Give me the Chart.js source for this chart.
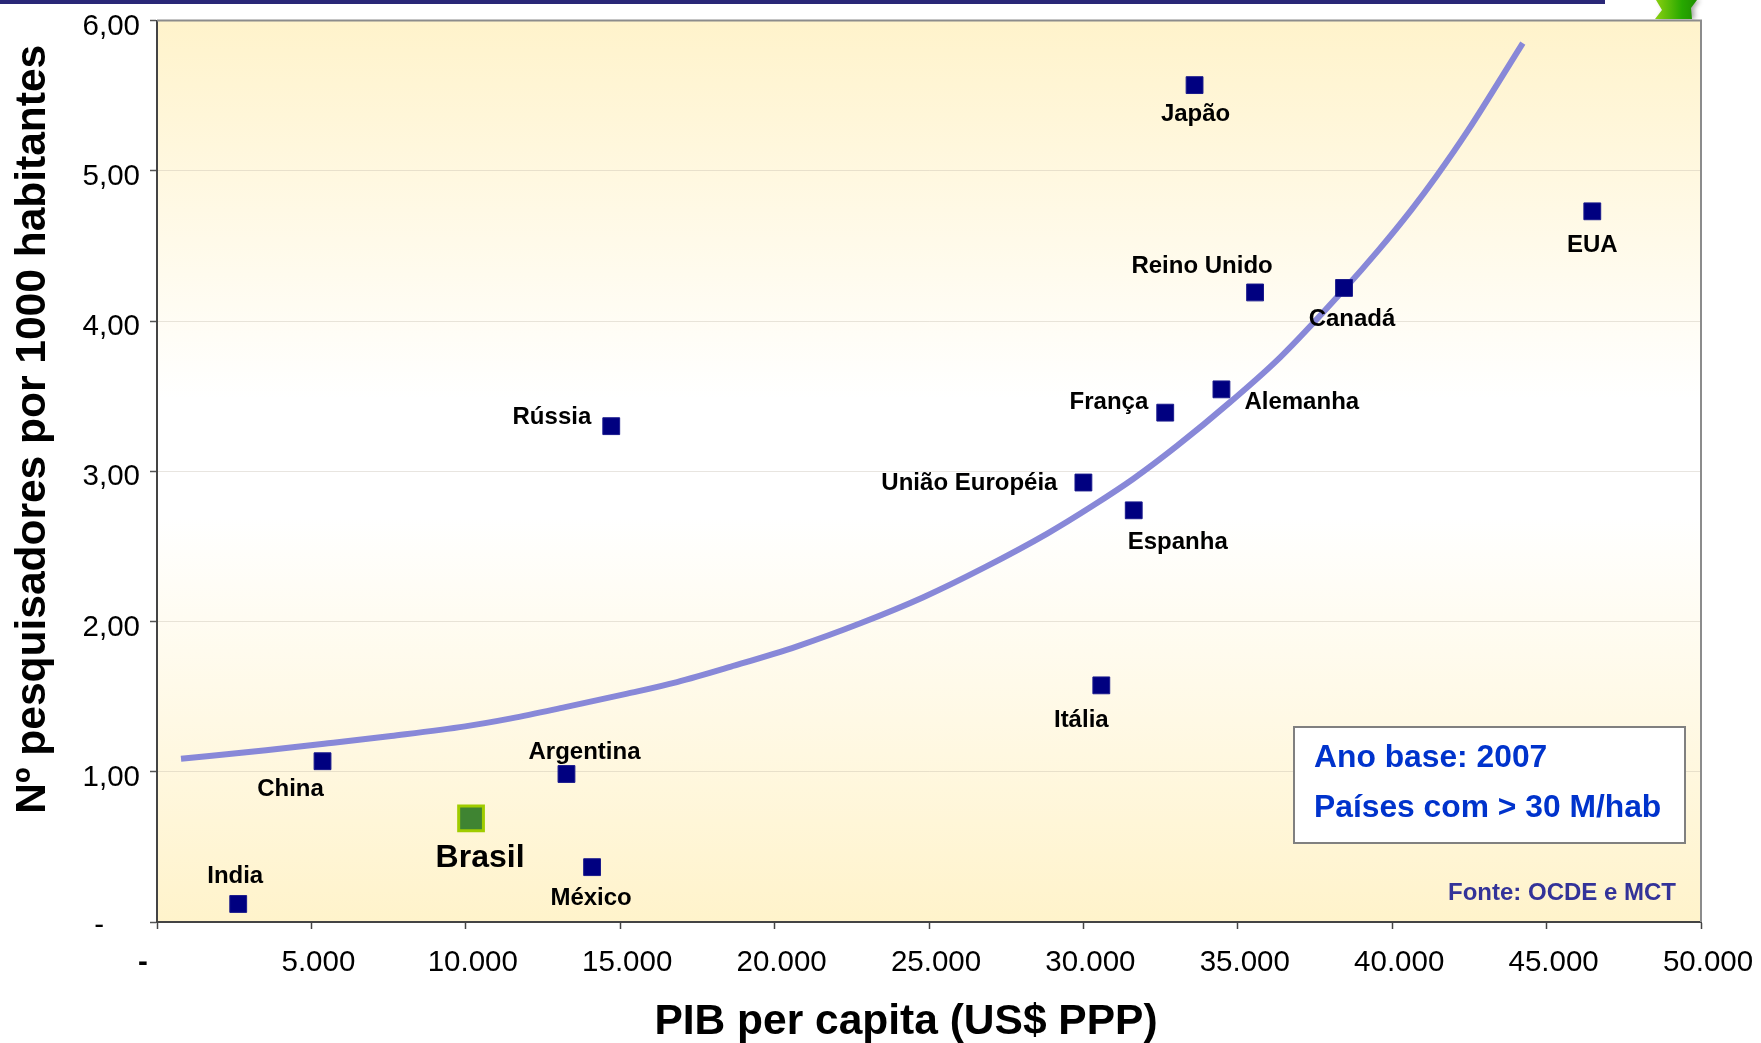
<!DOCTYPE html>
<html><head><meta charset="utf-8">
<style>html,body{margin:0;padding:0;background:#fff}#w{position:absolute;left:0;top:0;width:1761px;height:1043px}</style>
<script src="https://cdn.jsdelivr.net/npm/chart.js@4/dist/chart.umd.min.js"></script>
</head><body><div id="w"><canvas id="c" width="1761" height="1043"></canvas></div>
<script>
const countries = ["India","China","Argentina","México","Rússia","Itália","União Européia","Espanha","França","Alemanha","Japão","Reino Unido","Canadá","EUA"];
const pibValues = [2630,5360,13260,14090,14710,30580,30000,31630,32650,34470,33600,35560,38440,46480];
const researcherValues = [0.12,1.07,0.985,0.365,3.30,1.575,2.925,2.74,3.39,3.545,5.57,4.19,4.22,4.73];
const brazilName = ["Brasil"];
const brazilPib = [10170];
const brazilResearchers = [0.69];
const trendPib = [777,3530,5540,7580,9980,11470,13220,15230,16840,18590,20730,22800,24800,26800,28830,30300,31620,33040,34750,36380,38440,39550,40620,41420,42460,44230];
const trendValues = [1.087,1.143,1.189,1.238,1.302,1.355,1.43,1.52,1.597,1.70,1.835,1.99,2.16,2.36,2.585,2.77,2.95,3.17,3.46,3.76,4.21,4.47,4.74,4.96,5.27,5.85];
const xTickValues = [0,5000,10000,15000,20000,25000,30000,35000,40000,45000,50000];
const yTickValues = [0,1,2,3,4,5,6];
const xTitle = "PIB per capita (US$ PPP)";
const yTitle = "Nº pesquisadores por 1000 habitantes";
const noteLines = ["Ano base: 2007","Países com > 30 M/hab"];
const sourceText = "Fonte: OCDE e MCT";

const FF = '"Liberation Sans", Arial, sans-serif';
// pixel offsets of each country's label from its marker: dx, dy, alignment
const labelPlace = {
 "India":[-3,-28,"center"],"China":[-32,28,"center"],"Argentina":[18,-22,"center"],"México":[-1,31,"center"],
 "Rússia":[-20,-9,"right"],"Itália":[-20,35,"center"],"União Européia":[-26,1,"right"],"Espanha":[-6,32,"left"],
 "França":[-17,-10,"right"],"Alemanha":[23,13,"left"],"Japão":[1,29,"center"],"Reino Unido":[-53,-26,"center"],
 "Canadá":[8,31,"center"],"EUA":[0,34,"center"]};

const decor = {
 id:'decor',
 afterUpdate(chart){
   const xs=chart.scales.x;
   xs.getLabelItems().forEach((it,i)=>{ it.options.translation[0]+= (i===0?-14:7); });
   const ys=chart.scales.y;
   ys.getLabelItems().forEach((it,i)=>{ it.options.translation[1]+= (i===0?4:6); if(i===0) it.options.translation[0]-=36; });
   if(!xs._wrapped){ xs._wrapped=1;
     const d=xs.drawTitle.bind(xs); xs.drawTitle=function(){const c=xs.ctx;c.save();c.translate(-23,5);d();c.restore();};
     const e=ys.drawTitle.bind(ys); ys.drawTitle=function(){const c=ys.ctx;c.save();c.translate(8,-42);e();c.restore();};
   }
 },
 beforeDraw(chart){
   const {ctx,chartArea:a}=chart;
   ctx.save();
   ctx.fillStyle='#2A2777'; ctx.fillRect(0,0,1605,4);
   const g=ctx.createLinearGradient(1655,0,1700,0); g.addColorStop(0,'#8CD010'); g.addColorStop(.6,'#27A800'); g.addColorStop(1,'#1C8A00');
   ctx.shadowColor='rgba(0,0,0,.35)'; ctx.shadowBlur=5; ctx.shadowOffsetX=3;
   ctx.fillStyle=g; ctx.beginPath(); ctx.moveTo(1656,0); ctx.lineTo(1697,0); ctx.lineTo(1691,8); ctx.lineTo(1692,19); ctx.lineTo(1655,19); ctx.lineTo(1662,10); ctx.closePath(); ctx.fill();
   ctx.shadowColor='transparent'; ctx.shadowBlur=0; ctx.shadowOffsetX=0;
   const bg=ctx.createLinearGradient(0,a.top,0,a.bottom);
   bg.addColorStop(0,'#FFF3CB'); bg.addColorStop(.42,'#FFFFFF'); bg.addColorStop(.55,'#FFFFFF'); bg.addColorStop(1,'#FFF3CB');
   ctx.fillStyle=bg; ctx.fillRect(a.left,a.top,a.right-a.left,a.bottom-a.top);
   ctx.restore();
 },
 afterDatasetsDraw(chart){
   const {ctx,chartArea:a,scales:{x,y}}=chart;
   ctx.save();
   ctx.strokeStyle='#8C8C8C'; ctx.lineWidth=2;
   ctx.beginPath(); ctx.moveTo(a.left,a.top); ctx.lineTo(a.right,a.top); ctx.lineTo(a.right,a.bottom); ctx.stroke();
   ctx.fillStyle='#000'; ctx.textBaseline='middle';
   ctx.font='bold 24px '+FF;
   countries.forEach((n,i)=>{const p=labelPlace[n];ctx.textAlign=p[2];ctx.fillText(n,x.getPixelForValue(pibValues[i])+p[0],y.getPixelForValue(researcherValues[i])+p[1]);});
   ctx.font='bold 32px '+FF; ctx.textAlign='center';
   ctx.fillText(brazilName[0],x.getPixelForValue(brazilPib[0])+9,y.getPixelForValue(brazilResearchers[0])+40);
   ctx.fillStyle='#fff'; ctx.fillRect(1294,727,391,116);
   ctx.strokeStyle='#808080'; ctx.lineWidth=2; ctx.strokeRect(1294,727,391,116);
   ctx.fillStyle='#0033CC'; ctx.font='bold 31.8px '+FF; ctx.textAlign='left'; ctx.textBaseline='alphabetic';
   ctx.fillText(noteLines[0],1314,767); ctx.fillText(noteLines[1],1314,817);
   ctx.fillStyle='#333399'; ctx.font='bold 24px '+FF; ctx.textAlign='right';
   ctx.fillText(sourceText,1676,900);
   ctx.restore();
 }
};

new Chart(document.getElementById('c'),{
 type:'scatter',
 data:{datasets:[
  {label:'Tendência',data:trendPib.map((v,i)=>({x:v,y:trendValues[i]})),showLine:true,cubicInterpolationMode:'monotone',pointRadius:0,borderColor:'#8888D8',backgroundColor:'#8888D8',borderWidth:6,order:3},
  {label:'Países',data:pibValues.map((v,i)=>({x:v,y:researcherValues[i]})),pointStyle:'rect',pointRadius:11.9,backgroundColor:'#000080',borderColor:'#1A1A8C',borderWidth:1,order:1},
  {label:'Brasil',data:brazilPib.map((v,i)=>({x:v,y:brazilResearchers[i]})),pointStyle:'rect',pointRadius:17.5,backgroundColor:'#3F8432',borderColor:'#A0CC00',borderWidth:3,order:2}
 ]},
 options:{
  responsive:false,animation:false,events:[],
  layout:{padding:{top:19,right:60,left:0,bottom:0}},
  plugins:{legend:{display:false},tooltip:{enabled:false},title:{display:false}},
  scales:{
   x:{type:'linear',min:0,max:50000,
      afterFit(s){s.height=1043-922;s.paddingLeft=0;s.paddingRight=0;},
      afterBuildTicks(s){s.ticks=xTickValues.map(v=>({value:v}));},
      border:{color:'#444',width:2},
      grid:{drawOnChartArea:false,tickColor:'#444',tickLength:7,tickWidth:1.5},
      ticks:{maxRotation:0,autoSkip:false,color:'#000',padding:16,font:c=>({family:FF,size:29.5,weight:c.tick&&c.tick.value===0?'bold':'normal'}),callback:v=>v===0?'-':v.toLocaleString('de-DE')},
      title:{display:true,text:xTitle,color:'#000',font:{family:FF,size:42.5,weight:'bold'},padding:{top:10,bottom:0}}},
   y:{type:'linear',min:0,max:6,
      afterFit(s){s.width=157;s.paddingTop=0;s.paddingBottom=0;},
      afterBuildTicks(s){s.ticks=yTickValues.map(v=>({value:v}));},
      border:{color:'#444',width:2},
      grid:{color:'rgba(190,180,165,.35)',lineWidth:1,tickColor:'#555',tickLength:7,tickWidth:1.5},
      ticks:{autoSkip:false,color:'#000',padding:10,font:{family:FF,size:29.5},callback:v=>v===0?'-':v.toFixed(2).replace('.',',')},
      title:{display:true,text:yTitle,color:'#000',font:{family:FF,size:42.5,weight:'bold'},padding:{top:0,bottom:0}}}
  }
 },
 plugins:[decor]
});
</script></body></html>
